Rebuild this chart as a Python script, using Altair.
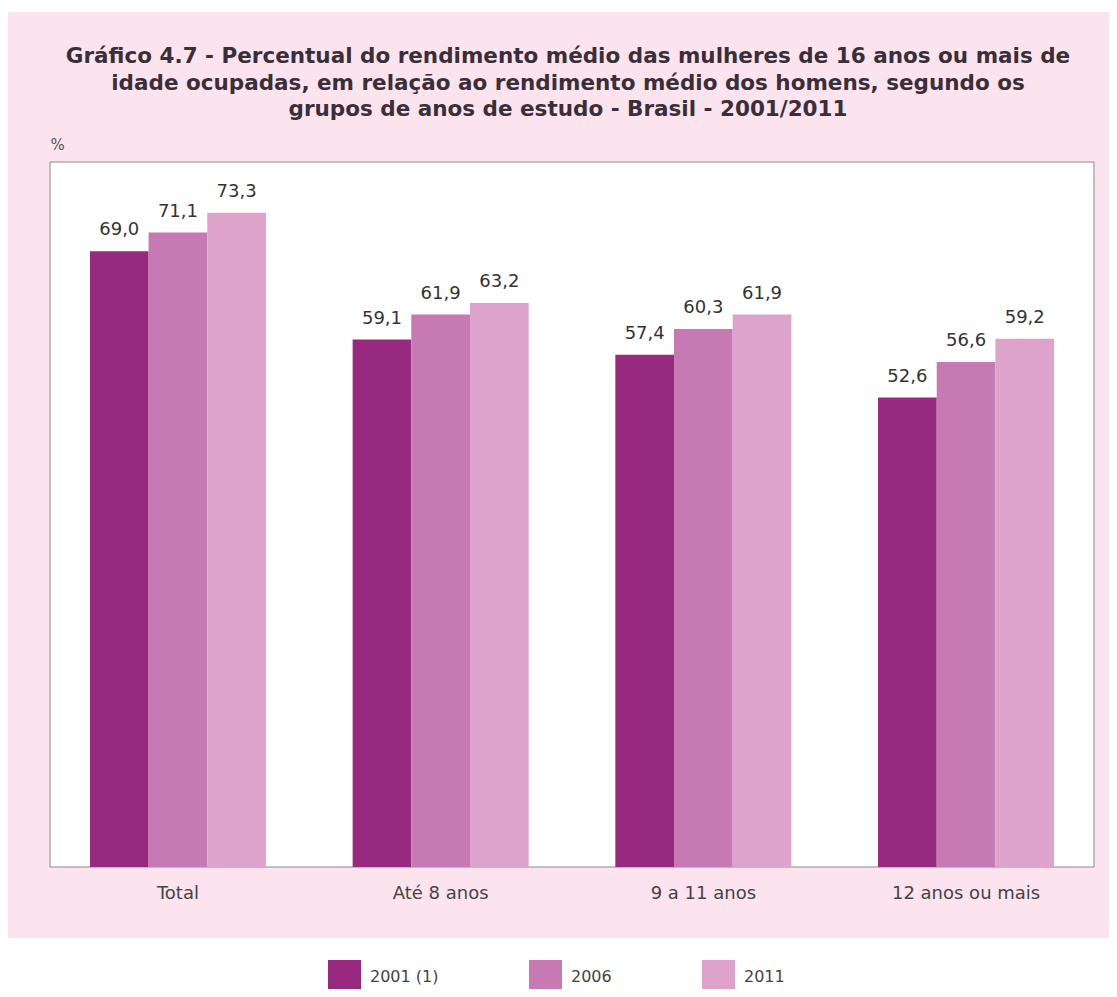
import altair as alt
import pandas as pd

grupos = ["Total", "Até 8 anos", "9 a 11 anos", "12 anos ou mais"]
anos = ["2001 (1)", "2006", "2011"]
v2001 = [69.0, 59.1, 57.4, 52.6]
v2006 = [71.1, 61.9, 60.3, 56.6]
v2011 = [73.3, 63.2, 61.9, 59.2]
cores = ["#97297f", "#c679b3", "#dea3cb"]
titulo = ["Gráfico 4.7 - Percentual do rendimento médio das mulheres de 16 anos ou mais de",
          "idade ocupadas, em relação ao rendimento médio dos homens, segundo os",
          "grupos de anos de estudo - Brasil - 2001/2011"]

rows = []
for i, g in enumerate(grupos):
    for a, serie in zip(anos, [v2001, v2006, v2011]):
        rows.append({"grupo": g, "ano": a, "valor": serie[i]})
df = pd.DataFrame(rows)

W, H = 1044, 705
bg = alt.Data(values=[{"k": 1}])

pink = alt.Chart(bg).mark_rect(color="#fce4ef", clip=False).encode(
    x=alt.value(-42), x2=alt.value(1059), y=alt.value(-150), y2=alt.value(776)
)
frame = alt.Chart(bg).mark_rect(fill="white", stroke="#8a8a8a", strokeWidth=1, clip=False).encode(
    x=alt.value(0), x2=alt.value(W), y=alt.value(0), y2=alt.value(H)
)
title_mark = alt.Chart(bg).mark_text(
    text=titulo, font="DejaVu Sans", fontSize=21.5, fontWeight="bold", color="#3a2f38",
    align="center", baseline="alphabetic", lineHeight=26.5, clip=False
).encode(x=alt.value(518), y=alt.value(-99))

base = alt.Chart(df).encode(
    x=alt.X("grupo:N", sort=grupos,
            scale=alt.Scale(paddingInner=0.33, paddingOuter=0.152),
            axis=alt.Axis(title=None, domain=False, ticks=False, labelAngle=0,
                          labelFont="DejaVu Sans", labelFontSize=18, labelColor="#444444",
                          labelPadding=17, zindex=1)),
    xOffset=alt.XOffset("ano:N", sort=anos),
)

bars = base.mark_bar().encode(
    y=alt.Y("valor:Q", scale=alt.Scale(domain=[0, 79.0], nice=False),
            axis=alt.Axis(title="%", titleAngle=0, titleX=0, titleY=-13, titleAlign="left",
                          titleBaseline="alphabetic",
                          titleFont="DejaVu Sans", titleFontSize=15, titleFontWeight="normal",
                          titleColor="#555555", zindex=1,
                          labels=False, ticks=False, domain=False, grid=False)),
    color=alt.Color("ano:N", sort=anos, scale=alt.Scale(domain=anos, range=cores),
                    legend=alt.Legend(title=None, orient="none", legendX=278, legendY=798,
                                      direction="horizontal", symbolType="square",
                                      symbolSize=1089, symbolStrokeWidth=0, symbolOpacity=1,
                                      labelFont="DejaVu Sans", labelFontSize=16,
                                      labelColor="#444444", labelOffset=9,
                                      columnPadding=90, padding=0)),
)

labels = base.mark_text(baseline="bottom", dy=-12, font="DejaVu Sans", fontSize=18,
                        color="#333333").transform_calculate(
    rotulo="replace(format(datum.valor, '.1f'), '.', ',')"
).encode(
    y=alt.Y("valor:Q"),
    text="rotulo:N",
)

chart = alt.layer(pink, frame, title_mark, bars, labels).properties(
    width=W, height=H,
    padding={"left": 42, "top": 154, "right": 15, "bottom": 122},
    autosize=alt.AutoSizeParams(type="none"),
    background="white",
).configure_view(stroke=None, fill=None)

chart.save("out.html", embed_options={"renderer": "svg", "actions": False})
